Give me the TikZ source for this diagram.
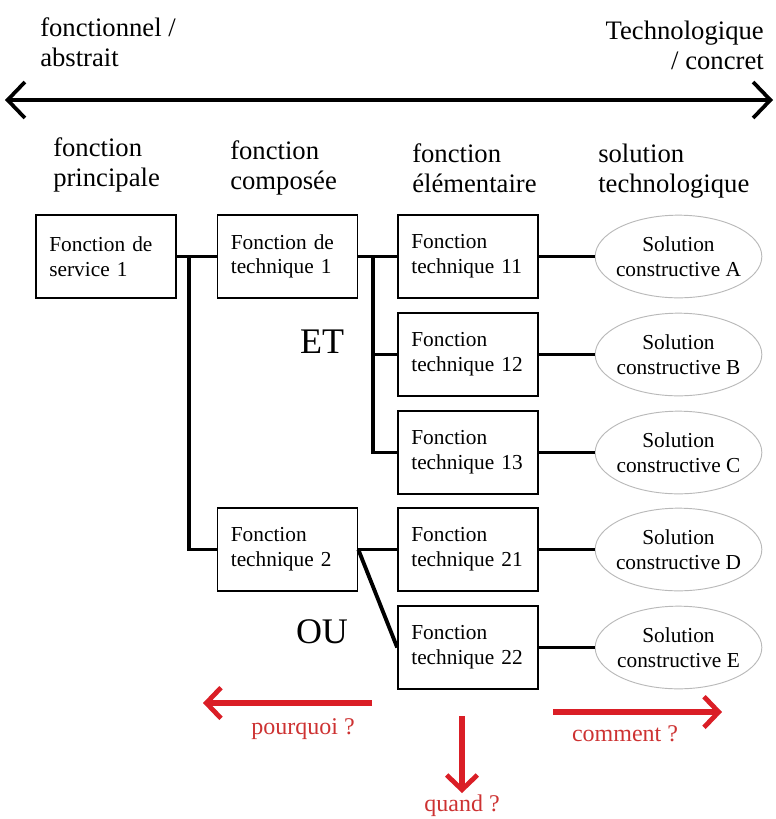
\documentclass[tikz,border=0pt]{standalone}
\usepackage{fontspec}
\setmainfont{Liberation Serif}
\usepackage{tikz}
\usetikzlibrary{arrows.meta, shapes.geometric, positioning}
\usepackage{xcolor}
\definecolor{redq}{RGB}{218,30,38}
\definecolor{redtxt}{RGB}{205,50,50}

\begin{document}
\begin{tikzpicture}[
  x=0.75pt, y=-0.75pt,
  font=\fontsize{16}{18.5}\selectfont,
  fbox/.style={draw, line width=1.2pt, minimum width=105pt, minimum height=62pt,
               text width=85pt, inner xsep=10pt, align=left},
  sol/.style={draw, ellipse, gray!55, text=black, line width=0.7pt,
              minimum width=125pt, minimum height=62pt,
              inner xsep=-14pt, inner ysep=-6pt, align=center},
  head/.style={font=\fontsize{20}{22.5}\selectfont, inner sep=0pt, anchor=west, align=left},
  link/.style={line width=2.9pt},
  axis/.style={{Straight Barb[length=13pt, width=27pt, line width=2.8pt]}-{Straight Barb[length=13pt, width=27pt, line width=2.8pt]}, line width=3.2pt},
  why/.style={-{Straight Barb[length=11pt, width=23pt, line width=3.6pt]}, line width=4.2pt, redq},
  qlabel/.style={font=\fontsize{18}{20}\selectfont, text=redtxt, inner sep=0pt},
  bigop/.style={font=\fontsize{27}{30}\selectfont, inner sep=0pt}
]
\useasboundingbox (0,0) rectangle (776,819);

%% axe fonctionnel -> technologique
\coordinate (abs) at (5,100);
\coordinate (con) at (773,100);
\draw[axis] (abs) -- (con);
\node[head] (fonc) at (40,42) {fonctionnel /\\abstrait};
\node[head, anchor=east, align=right] (techno) at (764,45) {Technologique\\/ concret};

%% titres des colonnes
\node[head] (hprinc) at (53,165)  {fonction\\principale};
\node[head] (hcomp)  at (230,168) {fonction\\composée};
\node[head] (helem)  at (412,168) {fonction\\élémentaire};
\node[head] (hsol)   at (598,171) {solution\\technologique};

%% fonctions
\node[fbox] (fs1) at (106,256.5)   {Fonction de\\service 1};
\node[fbox] (ft1) at (287.5,256.5) {Fonction de\\technique 1};
\node[fbox] (ft2) at (287.5,549.5) {Fonction\\technique 2};
\node[fbox] (f11) at (468,256.5)   {Fonction\\technique 11};
\node[fbox] (f12) at (468,354.5)   {Fonction\\technique 12};
\node[fbox] (f13) at (468,452.5)   {Fonction\\technique 13};
\node[fbox] (f21) at (468,549.5)   {Fonction\\technique 21};
\node[fbox] (f22) at (468,647.5)   {Fonction\\technique 22};

%% solutions
\node[sol] (solA) at (678.5,256.5) {Solution\\constructive A};
\node[sol] (solB) at (678.5,354.5) {Solution\\constructive B};
\node[sol] (solC) at (678.5,452.5) {Solution\\constructive C};
\node[sol] (solD) at (678.5,549.5) {Solution\\constructive D};
\node[sol] (solE) at (678.5,647.5) {Solution\\constructive E};

\node[bigop] (et) at (322,342) {ET};
\node[bigop] (ou) at (322,632) {OU};

%% liaisons
\draw[link] (fs1.east) -- (ft1.west);
\draw[link] (fs1.east) -- ++(12,0) |- (ft2.west);
\draw[link] (ft1.east) -- (f11.west);
\draw[link] (ft1.east) -- ++(15,0) |- (f12.west);
\draw[link] (ft1.east) -- ++(15,0) |- (f13.west);
\draw[link] (ft2.east) -- (f21.west);
\draw[link] (ft2.east) -- (f22.west);
\draw[link] (f11) -- (solA);
\draw[link] (f12) -- (solB);
\draw[link] (f13) -- (solC);
\draw[link] (f21) -- (solD);
\draw[link] (f22) -- (solE);

%% questions
\coordinate (pq1) at (372,703);
\coordinate (pq2) at (203,703);
\coordinate (cm1) at (553,712);
\coordinate (cm2) at (722,712);
\coordinate (qd1) at (462,716);
\coordinate (qd2) at (462,793);
\draw[why] (pq1) -- (pq2);
\draw[why] (cm1) -- (cm2);
\draw[why] (qd1) -- (qd2);
\node[qlabel] (pourquoi) at (303,729) {pourquoi ?};
\node[qlabel] (comment)  at (625,734) {comment ?};
\node[qlabel] (quand)    at (462,806) {quand ?};

\end{tikzpicture}
\end{document}
